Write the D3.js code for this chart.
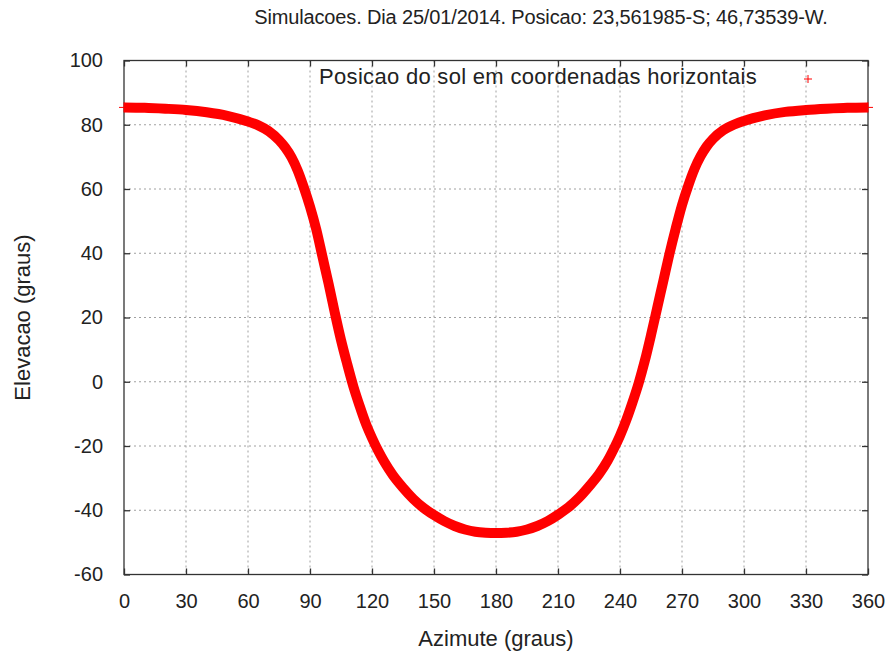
<!DOCTYPE html>
<html>
<head>
<meta charset="utf-8">
<script src="https://cdn.jsdelivr.net/npm/d3@7"></script>
<style>
  body { margin: 0; background: #fff; }
  svg { display: block; font-family: "Liberation Sans", Arial, sans-serif; }
  .grid line { stroke: #a0a0a0; stroke-width: 1; stroke-dasharray: 2,3; }
  .tick text { fill: #222; font-size: 20px; }
</style>
</head>
<body>
<svg class="chart"></svg>
<script>
// azimute (graus) e elevacao (graus)
const azimute = [0, 10, 20, 30, 40, 50, 60, 65, 70, 75, 78, 81, 84, 87, 90, 93, 96, 99, 102, 105, 108, 111, 114, 117, 120, 123, 126, 130, 135, 140, 145, 150, 155, 160, 165, 170, 175,
  180, 185, 190, 195, 200, 205, 210, 215, 220, 225, 230, 234, 237, 240, 243, 246, 249, 252, 255, 258, 261, 264, 267, 270, 273, 276, 279, 282, 285, 290, 295, 300, 310, 320, 330, 340, 350, 360];
const elevacao = [85.4, 85.3, 85.0, 84.6, 83.9, 82.8, 81.0, 79.8, 78.0, 75.2, 72.9, 69.9, 65.8, 60.5, 54.5, 47.5, 39.0, 30.5, 21.5, 13.0, 5.5, -1.5, -7.5, -13.0, -17.5, -21.5, -25.0, -29.0, -33.0, -36.5, -39.3, -41.5, -43.4, -44.9, -46.0, -46.7, -47.0,
  -47.1, -47.0, -46.7, -46.0, -44.9, -43.4, -41.4, -39.1, -36.2, -32.6, -28.6, -24.6, -20.9, -16.8, -12.0, -6.5, -0.5, 6.5, 14.5, 23.0, 31.5, 40.0, 47.8, 55.0, 61.0, 66.2, 70.2, 73.3, 75.6, 78.3, 80.0, 81.2, 82.9, 84.0, 84.6, 85.0, 85.3, 85.4];
const xTicks = [0, 30, 60, 90, 120, 150, 180, 210, 240, 270, 300, 330, 360];
const yTicks = [-60, -40, -20, 0, 20, 40, 60, 80, 100];

const titulo = "Simulacoes. Dia 25/01/2014. Posicao: 23,561985-S; 46,73539-W.";
const legenda = "Posicao do sol em coordenadas horizontais";

const W = 890, H = 657;
const margin = {top: 60.5, right: 22, bottom: 82.5, left: 124};
const width = W - margin.left - margin.right;
const height = H - margin.top - margin.bottom;

const x = d3.scaleLinear().domain([0, 360]).range([0, width]);
const y = d3.scaleLinear().domain([-60, 100]).range([height, 0]);

const svg = d3.select(".chart").attr("width", W).attr("height", H);
const chart = svg.append("g").attr("transform", `translate(${margin.left},${margin.top})`);

// grade pontilhada
const grid = chart.append("g").attr("class", "grid");
grid.selectAll(".gx").data(xTicks.slice(1, -1)).enter().append("line")
    .attr("x1", (d) => x(d)).attr("x2", (d) => x(d))
    .attr("y1", 0).attr("y2", height);
grid.selectAll(".gy").data(yTicks.slice(1, -1)).enter().append("line")
    .attr("x1", 0).attr("x2", width)
    .attr("y1", (d) => y(d)).attr("y2", (d) => y(d));

// eixos com marcas para dentro
const axisStyle = (g) => {
  g.select(".domain").remove();
  g.selectAll(".tick line").attr("stroke", "#333").attr("stroke-width", 1.3);
};
const plain = (d) => String(d);
chart.append("g").attr("transform", `translate(0,${height})`)
    .call(d3.axisBottom(x).tickValues(xTicks).tickSizeInner(-6).tickPadding(19).tickFormat(plain))
    .call(axisStyle);
chart.append("g")
    .call(d3.axisTop(x).tickValues(xTicks).tickSizeInner(-6).tickFormat(""))
    .call(axisStyle);
chart.append("g")
    .call(d3.axisLeft(y).tickValues(yTicks).tickSizeInner(-6).tickPadding(21).tickFormat(plain))
    .call(axisStyle);
chart.append("g").attr("transform", `translate(${width},0)`)
    .call(d3.axisRight(y).tickValues(yTicks).tickSizeInner(-6).tickFormat(""))
    .call(axisStyle);

chart.append("rect")
    .attr("width", width).attr("height", height)
    .attr("fill", "none").attr("stroke", "#333").attr("stroke-width", 1.3);

// curva da posicao do sol
const pontos = azimute.map((a, i) => [a, elevacao[i]]);
const line = d3.line()
    .x((d) => x(d[0]))
    .y((d) => y(d[1]))
    .curve(d3.curveMonotoneX);

chart.append("path")
    .datum(pontos)
    .attr("d", line)
    .attr("fill", "none")
    .attr("stroke", "#ff0000")
    .attr("stroke-width", 10);

const cross = (g, cx, cy, s) => {
  g.append("path")
      .attr("d", `M${cx - s},${cy}H${cx + s}M${cx},${cy - s}V${cy + s}`)
      .attr("stroke", "#ff0000").attr("stroke-width", 1);
};
[pontos[0], pontos[pontos.length - 1]].forEach((d) => cross(chart, x(d[0]), y(d[1]), 5));

// legenda
chart.append("text")
    .attr("x", 757 - margin.left).attr("y", 84 - margin.top)
    .attr("text-anchor", "end")
    .attr("fill", "#222").attr("font-size", 22).attr("letter-spacing", 0.3)
    .text(legenda);
cross(chart, 808 - margin.left, 79 - margin.top, 4);

// titulos
svg.append("text")
    .attr("x", 541).attr("y", 24)
    .attr("text-anchor", "middle")
    .attr("fill", "#222").attr("font-size", 20).attr("letter-spacing", -0.15)
    .text(titulo);
svg.append("text")
    .attr("x", margin.left + width / 2).attr("y", 646)
    .attr("text-anchor", "middle")
    .attr("fill", "#222").attr("font-size", 22)
    .text("Azimute (graus)");
svg.append("text")
    .attr("transform", `translate(30,${margin.top + height / 2}) rotate(-90)`)
    .attr("text-anchor", "middle")
    .attr("fill", "#222").attr("font-size", 22)
    .text("Elevacao (graus)");
</script>
</body>
</html>
